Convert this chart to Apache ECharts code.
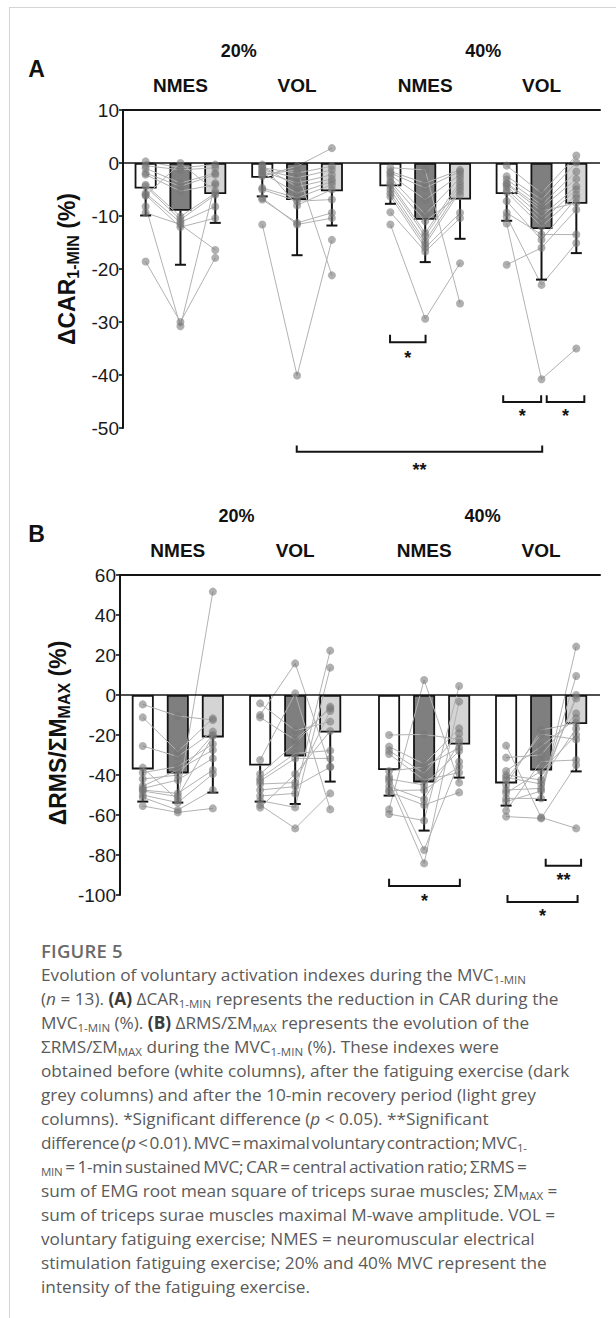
<!DOCTYPE html>
<html><head><meta charset="utf-8">
<script src="https://cdn.jsdelivr.net/npm/echarts@6.0.0/dist/echarts.min.js"></script>
<style>
html,body{margin:0;padding:0;background:#fff;}
body{width:616px;height:1318px;position:relative;overflow:hidden;}
#frame{position:absolute;left:9px;top:7px;width:620px;height:1320px;border-left:1px solid #d4d4d4;border-top:1px solid #d4d4d4;}
#chart{position:absolute;left:0;top:0;width:616px;height:930px;}
#cap{position:absolute;left:41px;top:939px;width:574px;font-family:'Open Sans','Noto Sans',sans-serif;font-size:17.2px;line-height:24px;color:#5a5a5a;white-space:nowrap;}
#cap .fig{font-weight:600;font-size:18.5px;color:#6a6a6a;letter-spacing:0.2px;}
#cap b{color:#3a3a3a;font-weight:700;}
#cap .sb{font-size:11.5px;vertical-align:-3px;line-height:0;}
</style>
</head><body>
<div id="frame"></div>
<div id="chart"></div>
<div id="cap">
<div class="fig">FIGURE 5</div>
<div>Evolution of voluntary activation indexes during the MVC<span class="sb">1-MIN</span></div>
<div>(<i>n</i> = 13). <b>(A)</b> ΔCAR<span class="sb">1-MIN</span> represents the reduction in CAR during the</div>
<div>MVC<span class="sb">1-MIN</span> (%). <b>(B)</b> ΔRMS/ΣM<span class="sb">MAX</span> represents the evolution of the</div>
<div>ΣRMS/ΣM<span class="sb">MAX</span> during the MVC<span class="sb">1-MIN</span> (%). These indexes were</div>
<div>obtained before (white columns), after the fatiguing exercise (dark</div>
<div>grey columns) and after the 10-min recovery period (light grey</div>
<div>columns). *Significant difference (<i>p</i> &lt; 0.05). **Significant</div>
<div style="letter-spacing:-0.3px;word-spacing:-2px">difference (<i>p</i> &lt; 0.01). MVC = maximal voluntary contraction; MVC<span class="sb">1-</span></div>
<div style="letter-spacing:-0.25px;word-spacing:-1.5px"><span class="sb">MIN</span> = 1-min sustained MVC; CAR = central activation ratio; ΣRMS =</div>
<div>sum of EMG root mean square of triceps surae muscles; ΣM<span class="sb">MAX</span> =</div>
<div>sum of triceps surae muscles maximal M-wave amplitude. VOL =</div>
<div>voluntary fatiguing exercise; NMES = neuromuscular electrical</div>
<div>stimulation fatiguing exercise; 20% and 40% MVC represent the</div>
<div>intensity of the fatiguing exercise.</div>
</div>
<script>
// ---------- data ----------
const intensities = ['20%', '40%'];
const conditions = ['NMES', 'VOL', 'NMES', 'VOL'];
const yTicksA = [-50, -40, -30, -20, -10, 0, 10];
const yTicksB = [-100, -80, -60, -40, -20, 0, 20, 40, 60];

// Panel A: ΔCAR1-MIN (%) means [pre, post, recovery] and mean-SD ends
const carMean = [[-4.8, -9.0, -5.85], [-2.8, -7.0, -5.35], [-4.4, -10.7, -6.9], [-5.85, -12.45, -7.7]];
const carLow  = [[-9.9, -19.2, -11.3], [-6.3, -17.4, -11.8], [-7.7, -18.7, -14.3], [-10.9, -22.0, -17.0]];
// individual subjects [pre, post, recovery]
const carN20 = [[-18.6,-30.0,-17.9],[-8.2,-30.8,-3.8],[-9.4,-11.6,-16.4],[-6.0,-12.1,-10.4],[-5.7,-11.2,-8.2],[-4.4,-10.7,-6.0],[-4.1,-10.1,-5.7],[-2.2,-5.3,-4.1],[-1.9,-4.4,-2.2],[-1.0,-3.8,-1.9],[-0.5,-1.3,-0.9],[0.3,-0.9,-0.3],[-6.2,0.0,-5.3]];
const carV20 = [[-11.6,-40.1,-14.5],[-6.9,-11.3,-9.4],[-6.6,-11.6,-10.4],[-5.0,-7.2,-6.9],[-4.7,-6.6,-4.1],[-2.5,-0.6,2.8],[-2.2,-1.3,-21.2],[-1.9,-5.7,-3.5],[-1.6,-3.8,-2.2],[-1.3,-2.8,-1.3],[-0.9,-1.9,-0.6],[-0.6,-4.5,-3.0],[-0.3,-8.0,-5.0]];
const carN40 = [[-11.6,-29.4,-18.9],[-9.3,-16.7,-10.4],[-6.3,-16.0,-9.4],[-5.7,-15.4,-5.3],[-5.0,-14.8,-4.7],[-4.3,-13.8,-4.1],[-3.8,-13.2,-3.5],[-3.5,-11.0,-6.0],[-2.8,-9.7,-2.8],[-2.3,-6.9,-2.2],[-1.9,-4.7,-1.6],[-1.6,-3.8,-1.3],[-0.9,-1.3,-26.5]];
const carV40 = [[-11.4,-40.8,-35.0],[-19.2,-16.0,-8.8],[-10.1,-23.0,-15.1],[-9.4,-13.5,-13.5],[-7.2,-14.5,-6.6],[-5.5,-12.0,-6.0],[-5.0,-11.0,-5.0],[-4.4,-10.1,-4.4],[-4.0,-9.1,-7.5],[-3.8,-8.5,-3.0],[-3.1,-7.9,-1.6],[-2.5,-6.9,0.1],[-0.5,-5.7,1.4]];

// Panel B: ΔRMS/ΣMMAX (%)
const rmsMean = [[-37.2, -39.2, -21.2], [-35.3, -30.7, -18.8], [-37.5, -43.7, -24.8], [-44.2, -37.7, -14.5]];
const rmsLow  = [[-53.3, -53.8, -48.8], [-53.3, -54.5, -43.3], [-50.3, -67.8, -41.3], [-55.3, -52.5, -38.2]];
const rmsN20 = [[-4.7,-10.5,-12.5],[-11.2,-28.3,-11.7],[-25.5,-30.8,-18.3],[-36.3,-52.5,51.7],[-38.8,-35.8,-24.5],[-42.0,-40.0,-20.0],[-45.5,-37.5,-27.5],[-46.7,-42.5,-31.7],[-47.5,-49.2,-37.5],[-48.0,-50.8,-20.5],[-50.0,-53.8,-39.5],[-51.2,-57.5,-47.5],[-55.5,-58.7,-56.7]];
const rmsV20 = [[-4.2,-17.8,-13.3],[-10.0,15.8,-35.8],[-11.2,-22.5,-6.7],[-32.5,0.8,-57.2],[-39.5,-24.2,-5.8],[-41.7,-29.2,-27.8],[-43.0,-31.7,-31.7],[-44.5,-43.8,-8.0],[-47.5,-45.8,-36.0],[-50.5,-49.2,22.2],[-52.8,-56.2,13.7],[-55.0,-66.7,-49.2],[-56.3,-39.5,-18.0]];
const rmsN40 = [[-20.0,-19.7,-22.2],[-25.8,-34.5,-16.7],[-27.8,-39.2,-19.2],[-29.5,-42.5,-38.8],[-38.0,-36.0,-26.3],[-40.8,-77.5,-33.3],[-42.0,-45.0,-28.0],[-43.3,-84.2,-3.3],[-45.8,-52.2,-24.0],[-47.8,-47.5,-35.8],[-48.5,-55.0,-48.7],[-57.2,7.5,-43.8],[-59.5,-62.8,4.5]];
const rmsV40 = [[-25.3,-61.2,-66.7],[-31.3,-30.0,-9.2],[-38.0,-25.8,-11.7],[-40.0,-42.5,-16.7],[-41.2,-44.5,-1.7],[-42.5,-19.5,-22.2],[-45.0,-17.5,-14.0],[-47.5,-46.7,0.0],[-49.0,-38.0,-20.0],[-51.7,-51.7,24.2],[-53.3,-48.0,9.5],[-57.8,-33.3,-32.5],[-60.8,-61.7,-35.0]];

// significance labels
const sigLabelsA = ['*', '*', '*', '**'];
const sigLabelsB = ['*', '**', '*'];

// ---------- layout (not data) ----------
const slotStart = [0, 3.35, 7.03, 10.37];      // group start on the x scale
const slot = (g, t) => slotStart[g] + t;
// brackets: [x1, x2, yLine, yTick, yLabel] in axis units
const bracketsA = [[7.02, 8.04, -33.8, -32.4, -36.0], [10.27, 11.36, -45.1, -43.8, -46.9], [11.52, 12.60, -45.1, -43.8, -46.9], [4.34, 11.39, -54.5, -53.3, -57.1]];
const bracketsB = [[7.03, 9.05, -95.5, -91.85, -100.85], [11.50, 12.51, -85.35, -81.85, -90.5], [10.41, 12.41, -103.5, -100, -108.35]];

const FILL = ['#ffffff', '#7f7f7f', '#d4d4d4'];
const INK = '#141414';
const FONT = "'Liberation Sans', Arial, sans-serif";

const chart = echarts.init(document.getElementById('chart'), null, {renderer: 'svg'});

function panelSeries(p, means, lows, subjGroups, brackets, sigLabels) {
  const bars = [], errs = [], dots = [], links = [];
  for (let g = 0; g < 4; g++) {
    for (let t = 0; t < 3; t++) {
      bars.push({value: [slot(g, t), means[g][t]], itemStyle: {color: FILL[t]}});
      errs.push([slot(g, t), means[g][t], lows[g][t]]);
    }
    subjGroups[g].forEach(s => {
      links.push([slot(g, 0), s[0], slot(g, 1), s[1], slot(g, 2), s[2]]);
      for (let t = 0; t < 3; t++) dots.push([slot(g, t), s[t]]);
    });
  }
  const ax = {xAxisIndex: p, yAxisIndex: p};
  return [
    Object.assign({type: 'bar', data: bars, barWidth: 22, z: 2,
      itemStyle: {borderColor: INK, borderWidth: 1.8},
      markLine: {silent: true, symbol: ['none', 'none'], label: {show: false},
        lineStyle: {color: INK, width: 1.6, type: 'solid'}, data: [{yAxis: 0}]}
    }, ax),
    Object.assign({type: 'custom', data: links, z: 3, silent: true,
      renderItem: (params, api) => {
        const pts = [0, 2, 4].map(i => api.coord([api.value(i), api.value(i + 1)]));
        return {type: 'polyline', shape: {points: pts}, style: {stroke: '#b2b2b2', lineWidth: 1, fill: null}};
      }}, ax),
    Object.assign({type: 'custom', data: errs, z: 4, silent: true,
      renderItem: (params, api) => {
        const a = api.coord([api.value(0), api.value(1)]);
        const b = api.coord([api.value(0), api.value(2)]);
        return {type: 'group', children: [
          {type: 'line', shape: {x1: a[0], y1: a[1], x2: b[0], y2: b[1]}, style: {stroke: INK, lineWidth: 2}},
          {type: 'line', shape: {x1: b[0] - 5.5, y1: b[1], x2: b[0] + 5.5, y2: b[1]}, style: {stroke: INK, lineWidth: 2}}
        ]};
      }}, ax),
    Object.assign({type: 'scatter', data: dots, z: 5, symbol: 'circle', symbolSize: 8, silent: true,
      itemStyle: {color: 'rgba(118,118,118,0.72)'}}, ax),
    Object.assign({type: 'custom', data: brackets, z: 6, silent: true, clip: false,
      renderItem: (params, api) => {
        const l = api.coord([api.value(0), api.value(2)]);
        const r = api.coord([api.value(1), api.value(2)]);
        const tk = api.coord([api.value(0), api.value(3)]);
        const lb = api.coord([(api.value(0) + api.value(1)) / 2, api.value(4)]);
        return {type: 'group', children: [
          {type: 'polyline', shape: {points: [[l[0], tk[1]], [l[0], l[1]], [r[0], r[1]], [r[0], tk[1]]]},
            style: {stroke: INK, lineWidth: 2, fill: null}},
          {type: 'text', x: lb[0], y: lb[1] + 4,
            style: {text: sigLabels[params.dataIndex], fill: INK, fontSize: 18, fontWeight: 'bold',
              fontFamily: FONT, align: 'center', verticalAlign: 'middle'}}
        ]};
      }}, ax)
  ];
}

const xCommon = {type: 'value', min: -0.65, max: 13.05, position: 'top',
  axisLine: {show: true, onZero: false, lineStyle: {color: INK, width: 2}},
  axisTick: {show: false}, axisLabel: {show: false}, splitLine: {show: false}};
const yCommon = {type: 'value',
  axisLine: {show: true, onZero: false, lineStyle: {color: INK, width: 2}},
  axisTick: {show: true, length: 4, lineStyle: {color: INK, width: 1.6}},
  axisLabel: {color: '#1a1a1a', fontSize: 19, fontFamily: FONT, margin: 4},
  splitLine: {show: false}};

const option = {
  animation: false,
  backgroundColor: 'transparent',
  grid: [
    {left: 123, right: 16, top: 110, height: 318, outerBoundsMode: 'none', containLabel: false},
    {left: 120, right: 16, top: 575, height: 320, outerBoundsMode: 'none', containLabel: false}
  ],
  xAxis: [Object.assign({gridIndex: 0}, xCommon), Object.assign({gridIndex: 1}, xCommon)],
  yAxis: [
    Object.assign({gridIndex: 0, min: yTicksA[0], max: yTicksA[yTicksA.length - 1], interval: 10}, yCommon),
    Object.assign({gridIndex: 1, min: yTicksB[0], max: yTicksB[yTicksB.length - 1], interval: 20}, yCommon)
  ],
  series: [].concat(
    panelSeries(0, carMean, carLow, [carN20, carV20, carN40, carV40], bracketsA, sigLabelsA),
    panelSeries(1, rmsMean, rmsLow, [rmsN20, rmsV20, rmsN40, rmsV40], bracketsB, sigLabelsB)
  )
};
chart.setOption(option);

// headers placed from the axis scale
function headerGraphics(p, gridTop, letter, yTitle, titleX, titleY, titleSize) {
  const px = v => chart.convertToPixel({xAxisIndex: p}, v);
  const gc = [0, 1, 2, 3].map(g => px(slot(g, 1)));
  const els = [];
  const txt = (text, x, y, size) => ({type: 'text', x: x, y: y, silent: true,
    style: {text: text, fill: '#111', fontSize: size, fontWeight: 'bold', fontFamily: FONT, align: 'center', verticalAlign: 'middle'}});
  els.push(txt(intensities[0], (gc[0] + gc[1]) / 2, gridTop - 59, 18));
  els.push(txt(intensities[1], (gc[2] + gc[3]) / 2, gridTop - 59, 18));
  conditions.forEach((c, g) => els.push(txt(c, gc[g], gridTop - 24.5, 19)));
  els.push(txt(letter, 36.5, gridTop - 41, 23));
  const sub = Math.round(titleSize * 0.68);
  els.push({type: 'text', x: titleX, y: titleY, rotation: Math.PI / 2, silent: true,
    style: {text: yTitle, align: 'center', verticalAlign: 'middle', fill: '#111', fontFamily: FONT,
      rich: {
        b: {fontSize: titleSize, fontWeight: 'bold', fontFamily: FONT, fill: '#111', lineHeight: titleSize + 6},
        s: {fontSize: sub, fontWeight: 'bold', fontFamily: FONT, fill: '#111', lineHeight: sub, verticalAlign: 'bottom'}
      }}});
  return els;
}
chart.setOption({graphic: [].concat(
  headerGraphics(0, 110, 'A', '{b|ΔCAR}{s|1-MIN}{b| (%)}', 67, 269, 23),
  headerGraphics(1, 575, 'B', '{b|ΔRMS/ΣM}{s|MAX}{b| (%)}', 58, 733, 23)
)});
</script>
</body></html>
